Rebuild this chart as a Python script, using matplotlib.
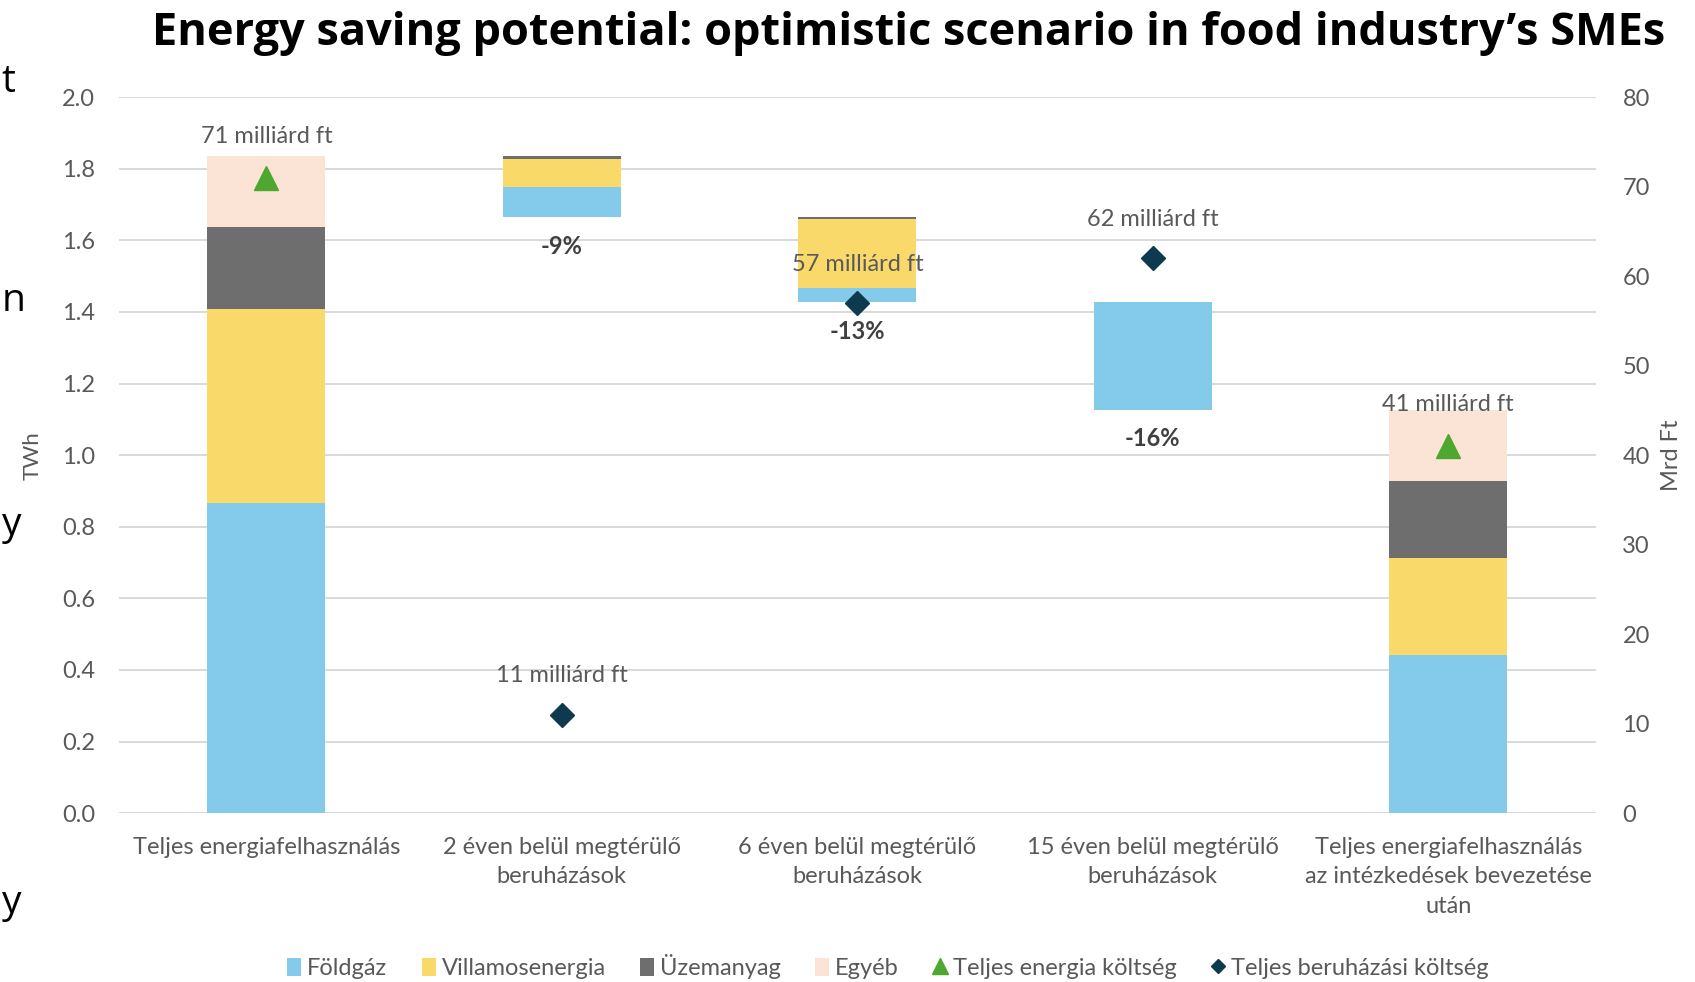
import matplotlib.pyplot as plt
from matplotlib.patches import Patch
from matplotlib.lines import Line2D

plt.rcParams['font.family'] = ['Lato', 'DejaVu Sans']

categories = ['Teljes energiafelhasználás',
              '2 éven belül megtérülő\nberuházások',
              '6 éven belül megtérülő\nberuházások',
              '15 éven belül megtérülő\nberuházások',
              'Teljes energiafelhasználás\naz intézkedések bevezetése\nután']

series = ['Földgáz', 'Villamosenergia', 'Üzemanyag', 'Egyéb']
colors = ['#83CAEB', '#F9D969', '#6E6E6E', '#FBE3D6']

# TWh, one segment per column (columns 2-4 are the savings)
foldgaz = [0.866, 0.084, 0.040, 0.300, 0.442]
villamos = [0.542, 0.078, 0.192, 0.000, 0.272]
uzemanyag = [0.229, 0.008, 0.006, 0.000, 0.215]
egyeb = [0.198, 0.000, 0.000, 0.000, 0.198]

saving_pct = ['', '-9%', '-13%', '-16%', '']

# Mrd Ft (right axis)
energy_cost = [71, None, None, None, 41]
invest_cost = [None, 11, 57, 62, None]

title = 'Energy saving potential: optimistic scenario in food industry\u2019s SMEs'
grey = '#595959'

fig = plt.figure(figsize=(16.95, 9.82), dpi=100)
ax = fig.add_axes([0.070, 0.172, 0.8716, 0.729])
ax2 = ax.twinx()

stacks = [foldgaz, villamos, uzemanyag, egyeb]
x = list(range(len(categories)))
col_sums = [sum(s[i] for s in stacks) for i in x]

# floating bars: each saving column hangs from the previous running total
bottoms = [0.0] * len(x)
running = col_sums[0]
for i in x[1:-1]:
    running -= col_sums[i]
    bottoms[i] = running

for i in x:
    base = bottoms[i]
    for vals, c in zip(stacks, colors):
        if vals[i] > 0:
            ax.bar(i, vals[i], bottom=base, width=0.40, color=c, zorder=2)
        base += vals[i]
    if saving_pct[i]:
        ax.annotate(saving_pct[i], (i, bottoms[i]), xytext=(0, -21),
                    textcoords='offset points', ha='center', va='center',
                    fontsize=17, fontweight='bold', color='#404040')

ax.set_xlim(-0.5, len(x) - 0.5)
ax.set_ylim(0, 2.0)
ax.set_yticks([i / 10 for i in range(0, 21, 2)])
ax.yaxis.set_major_formatter(lambda v, p: f'{v:.1f}')
ax.set_xticks(x)
ax.set_xticklabels(categories, fontsize=17, color=grey, linespacing=1.5)
ax.tick_params(axis='x', length=0, pad=17)
ax.tick_params(axis='y', length=0, pad=17, labelsize=17, labelcolor=grey)
ax.grid(axis='y', color='#D9D9D9', lw=1.4, zorder=0)
ax.set_axisbelow(True)
ax.set_ylabel('TWh', fontsize=16, color=grey, labelpad=14)

ax2.set_ylim(0, 80)
ax2.set_yticks(range(0, 81, 10))
ax2.tick_params(axis='y', length=0, pad=19, labelsize=17, labelcolor=grey)
ax2.set_ylabel('Mrd Ft', fontsize=17, color=grey, labelpad=8)

for a in (ax, ax2):
    for s in a.spines.values():
        s.set_visible(False)

for i in x:
    if energy_cost[i] is not None:
        ax2.plot(i, energy_cost[i], marker='^', ms=17, color='#4EA72E', ls='none')
        ax2.annotate(f'{energy_cost[i]} milliárd ft', (i, energy_cost[i]), xytext=(0, 30),
                     textcoords='offset points', ha='center', va='center',
                     fontsize=17, color=grey)
    if invest_cost[i] is not None:
        ax2.plot(i, invest_cost[i], marker='D', ms=12, color='#0E3A4F', ls='none')
        ax2.annotate(f'{invest_cost[i]} milliárd ft', (i, invest_cost[i]), xytext=(0, 28),
                     textcoords='offset points', ha='center', va='center',
                     fontsize=17, color=grey)

handles = [Patch(facecolor=c, label=s) for s, c in zip(series, colors)]
handles.append(Line2D([], [], marker='^', color='#4EA72E', ls='none', ms=11,
                      label='Teljes energia költség'))
handles.append(Line2D([], [], marker='D', color='#0E3A4F', ls='none', ms=7,
                      label='Teljes beruházási költség'))
leg = fig.legend(handles=handles, loc='center', bbox_to_anchor=(0.524, 0.016), ncol=6,
                 frameon=False, fontsize=17, handlelength=0.6, handleheight=0.8,
                 handletextpad=0.25, columnspacing=1.45)
for t in leg.get_texts():
    t.set_color(grey)

fig.text(0.536, 0.966, title, ha='center', va='center', fontsize=32.5,
         fontweight='bold', family='Open Sans')

# cut-off slide text at the left edge
for ch, yy in [('t', 0.906), ('n', 0.683), ('y', 0.455), ('y', 0.070)]:
    fig.text(0.001, yy, ch, fontsize=28, family='Open Sans', va='baseline', ha='left')

fig.savefig('out.png', dpi=100)
